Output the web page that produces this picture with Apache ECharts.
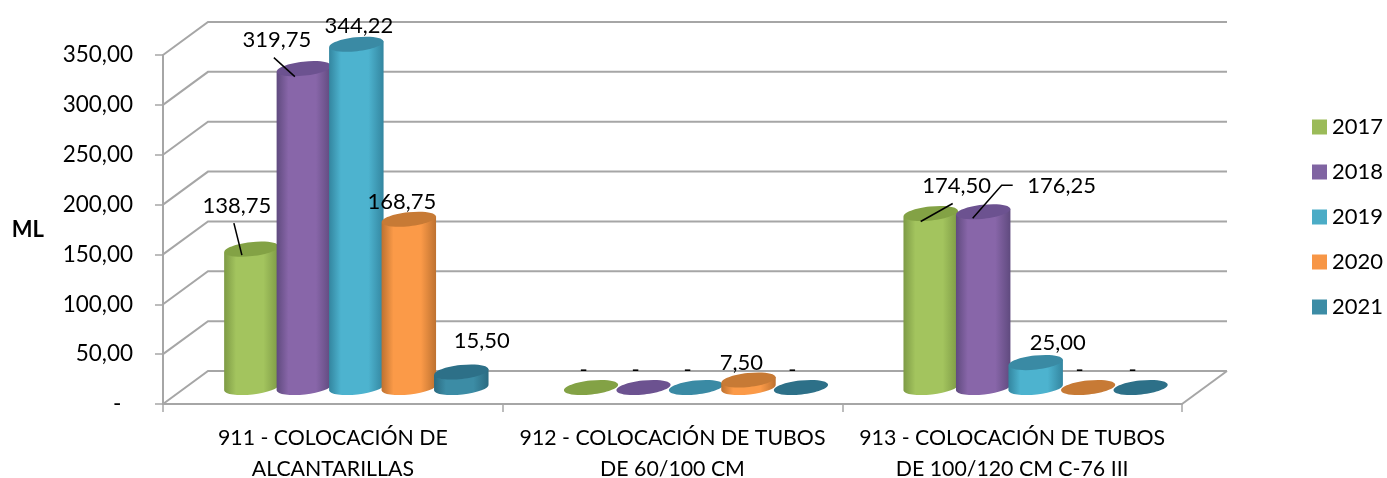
<!DOCTYPE html>
<html>
<head>
<meta charset="utf-8">
<style>
html,body{margin:0;padding:0;background:#fff;}
#chart{width:1387px;height:478px;}
</style>
<script src="https://cdn.jsdelivr.net/npm/echarts@6/dist/echarts.min.js"></script>
</head>
<body>
<div id="chart"></div>
<script>
var categories = ['911 - COLOCACIÓN DE\nALCANTARILLAS', '912 - COLOCACIÓN DE TUBOS\nDE 60/100 CM', '913 - COLOCACIÓN DE TUBOS\nDE 100/120 CM C-76 III'];
var years = ['2017', '2018', '2019', '2020', '2021'];
var values2017 = [138.75, 0, 174.5];
var values2018 = [319.75, 0, 176.25];
var values2019 = [344.22, 0, 25];
var values2020 = [168.75, 7.5, 0];
var values2021 = [15.5, 0, 0];
var yTicks = [0, 50, 100, 150, 200, 250, 300, 350];

// [side dark, side light, top face]
var colors = [
    ['#7d9a45', '#a3c45e', '#83a245'],
    ['#5f4a7e', '#8866a9', '#6c5290'],
    ['#33859f', '#4db3cf', '#3a8aa4'],
    ['#bd7130', '#fb9a48', '#c77a35'],
    ['#2a6a80', '#3c8ca5', '#2d7088']
];
var legendColors = ['#9bbb59', '#8064a2', '#4bacc6', '#f79646', '#3c8ca5'];

// label offset from the top of each cylinder, per series / category
var labelPos = [
    [[-14.5, -43], [-7.5, -17.5], [26, -28]],
    [[-27, -29], [-8, -17.5], [78.5, -25.6]],
    [[2.5, -18], [-8.5, -17.5], [22, -19.5]],
    [[-7, -17], [-7, -17], [-8.5, -17.5]],
    [[20.5, -31], [-8.5, -17.5], [-8, -17.5]]
];
// leader lines, same reference point
var leaders = {
    '0_0': [[-17.5, -26], [-9.5, 6]],
    '0_2': [[22, -10], [-10, 8]],
    '1_0': [[-30, -11], [-9, 8]],
    '1_2': [[29.5, -26.6], [18.5, -26.6], [-10.5, 6.4]]
};

var DEPTH_X = 45, DEPTH_Y = 33;
var FONT = 'Lato, "Open Sans", sans-serif';

function fmt(v) {
    if (v === 0) return '-';
    return v.toFixed(2).replace('.', ',');
}

function renderWall(params, api) {
    var cs = params.coordSys;
    var v = api.value(0);
    var y = api.coord([0, v])[1];
    var kids = [{
        type: 'polyline',
        shape: {points: [[cs.x, y], [cs.x + DEPTH_X, y - DEPTH_Y], [cs.x + cs.width + DEPTH_X, y - DEPTH_Y]]},
        style: {stroke: '#a6a6a6', lineWidth: 2, fill: null}
    }];
    if (v === 0) {
        kids.push({
            type: 'polyline',
            shape: {points: [[cs.x + cs.width, y], [cs.x + cs.width + DEPTH_X, y - DEPTH_Y]]},
            style: {stroke: '#a6a6a6', lineWidth: 2, fill: null}
        });
    }
    return {type: 'group', children: kids};
}

function makeCylinder(s) {
    return function (params, api) {
        var cat = api.value(0);
        var val = api.value(1);
        var step = api.size([1, 0])[0] * 0.1545;
        var rx = step / 2 + 1;
        var ry = 7;
        var tilt = 3;
        var top = api.coord([cat, val]);
        var base = api.coord([cat, 0]);
        var cx = top[0] + DEPTH_X / 2 + 1 + (s - 2) * step;
        var ty = top[1] - DEPTH_Y / 2;
        var by = base[1] - DEPTH_Y / 2;
        var c = colors[s];
        var kids = [];
        if (val > 0) {
            var d = 'M' + (cx - rx) + ' ' + (ty + tilt) +
                ' L' + (cx - rx) + ' ' + (by + tilt) +
                ' A' + rx + ' ' + ry + ' -6 0 0 ' + (cx + rx) + ' ' + (by - tilt) +
                ' L' + (cx + rx) + ' ' + (ty - tilt) + ' Z';
            kids.push({
                type: 'path',
                shape: {pathData: d},
                style: {
                    fill: new echarts.graphic.LinearGradient(0, 0, 1, 0, [
                        {offset: 0, color: c[0]},
                        {offset: 0.22, color: c[1]},
                        {offset: 0.72, color: c[1]},
                        {offset: 1, color: c[0]}
                    ])
                }
            });
        }
        kids.push({
            type: 'ellipse',
            shape: {cx: 0, cy: 0, rx: rx, ry: ry},
            x: cx, y: ty,
            rotation: 0.11,
            style: {fill: c[2]}
        });
        var pos = labelPos[s][cat];
        kids.push({
            type: 'text',
            x: cx + pos[0], y: ty + pos[1],
            style: {text: fmt(val), align: 'center', verticalAlign: 'middle', fill: '#000', fontSize: 22, fontFamily: FONT}
        });
        var lead = leaders[s + '_' + cat];
        if (lead) {
            kids.push({
                type: 'polyline',
                shape: {points: lead.map(function (p) { return [cx + p[0], ty + p[1]]; })},
                style: {stroke: '#000', lineWidth: 1.5, fill: null}
            });
        }
        return {type: 'group', children: kids};
    };
}

var chart = echarts.init(document.getElementById('chart'));

var allValues = [values2017, values2018, values2019, values2020, values2021];
var series = [{
    name: 'wall',
    type: 'custom',
    coordinateSystem: 'cartesian2d',
    renderItem: renderWall,
    data: yTicks.map(function (t) { return [t]; }),
    encode: {y: 0},
    z: 1,
    silent: true,
    clip: false
}];
years.forEach(function (yr, s) {
    series.push({
        name: yr,
        type: 'custom',
        coordinateSystem: 'cartesian2d',
        renderItem: makeCylinder(s),
        data: allValues[s].map(function (v, i) { return [i, v]; }),
        encode: {x: 0, y: 1},
        itemStyle: {color: legendColors[s]},
        z: 3 + s,
        clip: false
    });
});

var option = {
    animation: false,
    backgroundColor: '#fff',
    grid: {left: 163, right: 205, top: 55, bottom: 74, outerBoundsMode: 'none'},
    legend: {
        data: years,
        orient: 'vertical',
        left: 1312,
        top: 116,
        padding: 0,
        icon: 'rect',
        itemWidth: 15,
        itemHeight: 15,
        itemGap: 23,
        selectedMode: false,
        textStyle: {fontSize: 22, fontFamily: FONT, color: '#000'}
    },
    xAxis: {
        type: 'category',
        data: categories,
        axisLine: {lineStyle: {color: '#a6a6a6', width: 2}},
        axisTick: {show: true, length: 8, lineStyle: {color: '#a6a6a6', width: 1.5}},
        axisLabel: {interval: 0, margin: 19, fontSize: 21.3, lineHeight: 31, color: '#000', fontFamily: FONT}
    },
    yAxis: {
        type: 'value',
        min: 0,
        max: 350,
        interval: 50,
        name: 'ML',
        nameLocation: 'middle',
        nameGap: 119,
        nameRotate: 0,
        nameTextStyle: {fontSize: 22, fontWeight: 'bold', color: '#000', fontFamily: FONT},
        axisLine: {show: true, lineStyle: {color: '#a6a6a6', width: 2}},
        axisTick: {show: true, length: 8, lineStyle: {color: '#a6a6a6', width: 1.5}},
        splitLine: {show: false},
        axisLabel: {
            margin: 30,
            fontSize: 22.5,
            color: '#000',
            fontFamily: FONT,
            padding: [10, 0, 0, 0],
            formatter: function (v) { return v === 0 ? '-  ' : fmt(v); }
        }
    },
    series: series
};
chart.setOption(option);
window.onresize = function () {
    chart.resize();
};
</script>
</body>
</html>
